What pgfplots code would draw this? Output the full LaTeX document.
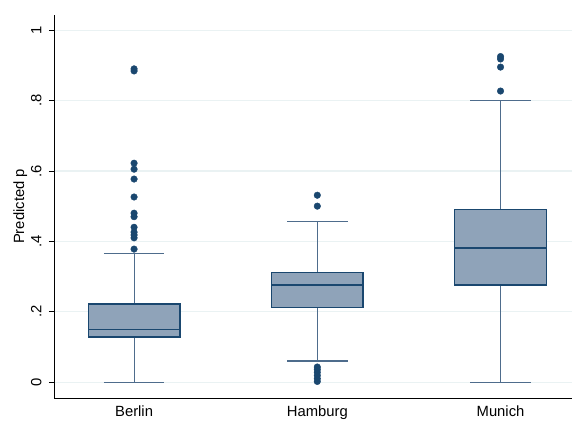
\documentclass[border=0pt]{standalone}
\usepackage{pgfplots}
\pgfplotsset{compat=1.18}
\usepgfplotslibrary{statistics}
\usepackage{fontspec}
\setmainfont{Liberation Sans}
\definecolor{navy}{RGB}{26,71,111}
\definecolor{boxfill}{RGB}{143,163,185}
\definecolor{whisk}{RGB}{78,108,140}
\definecolor{gridc}{RGB}{234,242,243}
\begin{document}
\begin{tikzpicture}
\useasboundingbox (-54bp,-24bp) rectangle (519bp,398bp);
\begin{axis}[
  at={(0,0)}, anchor=south west,
  scale only axis, width=518bp, height=383bp,
  xmin=0.563, xmax=3.39, ymin=-0.045, ymax=1.043,
  axis x line*=bottom, axis y line*=left,
  axis line style={black, line width=1bp},
  ytick={0,0.2,0.4,0.6,0.8,1}, yticklabels={0,.2,.4,.6,.8,1},
  xtick={1,2,3}, xticklabels={Berlin,Hamburg,Munich},
  tick align=outside, major tick length=5bp,
  y tick style={black, line width=0.8bp},
  x tick style={draw=none},
  ymajorgrids, grid style={gridc, line width=1.2bp},
  tick label style={font=\fontsize{14.8bp}{17bp}\selectfont},
  yticklabel style={rotate=90, anchor=south, yshift=4bp},
  xticklabel style={yshift=1bp},
  ylabel={Predicted p},
  ylabel style={font=\fontsize{14.8bp}{17bp}\selectfont, yshift=-3bp},
  boxplot/draw direction=y,
  boxplot/every box/.style={draw=navy, fill=boxfill, line width=1.3bp},
  boxplot/every whisker/.style={draw=whisk, line width=1.1bp},
  boxplot/every median/.style={draw=navy, line width=1.4bp},
  clip=false,
]
\addplot[mark=*, mark size=3.3bp, mark options={fill=navy, draw=navy},
  boxplot prepared={draw position=1, lower whisker=0, lower quartile=0.128,
    median=0.15, upper quartile=0.222, upper whisker=0.366,
    box extend=0.5, whisker extend=0.33}]
  table[row sep=\\, y index=0] {y\\0.378\\0.41\\0.418\\0.426\\0.44\\0.47\\0.48\\0.526\\0.577\\0.605\\0.622\\0.884\\0.89\\};
\addplot[mark=*, mark size=3.3bp, mark options={fill=navy, draw=navy},
  boxplot prepared={draw position=2, lower whisker=0.06, lower quartile=0.212,
    median=0.276, upper quartile=0.312, upper whisker=0.457,
    box extend=0.5, whisker extend=0.33}]
  table[row sep=\\, y index=0] {y\\0.043\\0.036\\0.028\\0.019\\0.01\\0.002\\0.5\\0.531\\};
\addplot[mark=*, mark size=3.3bp, mark options={fill=navy, draw=navy},
  boxplot prepared={draw position=3, lower whisker=0, lower quartile=0.276,
    median=0.381, upper quartile=0.491, upper whisker=0.801,
    box extend=0.5, whisker extend=0.33}]
  table[row sep=\\, y index=0] {y\\0.827\\0.895\\0.918\\0.925\\};
\end{axis}
\end{tikzpicture}
\end{document}
